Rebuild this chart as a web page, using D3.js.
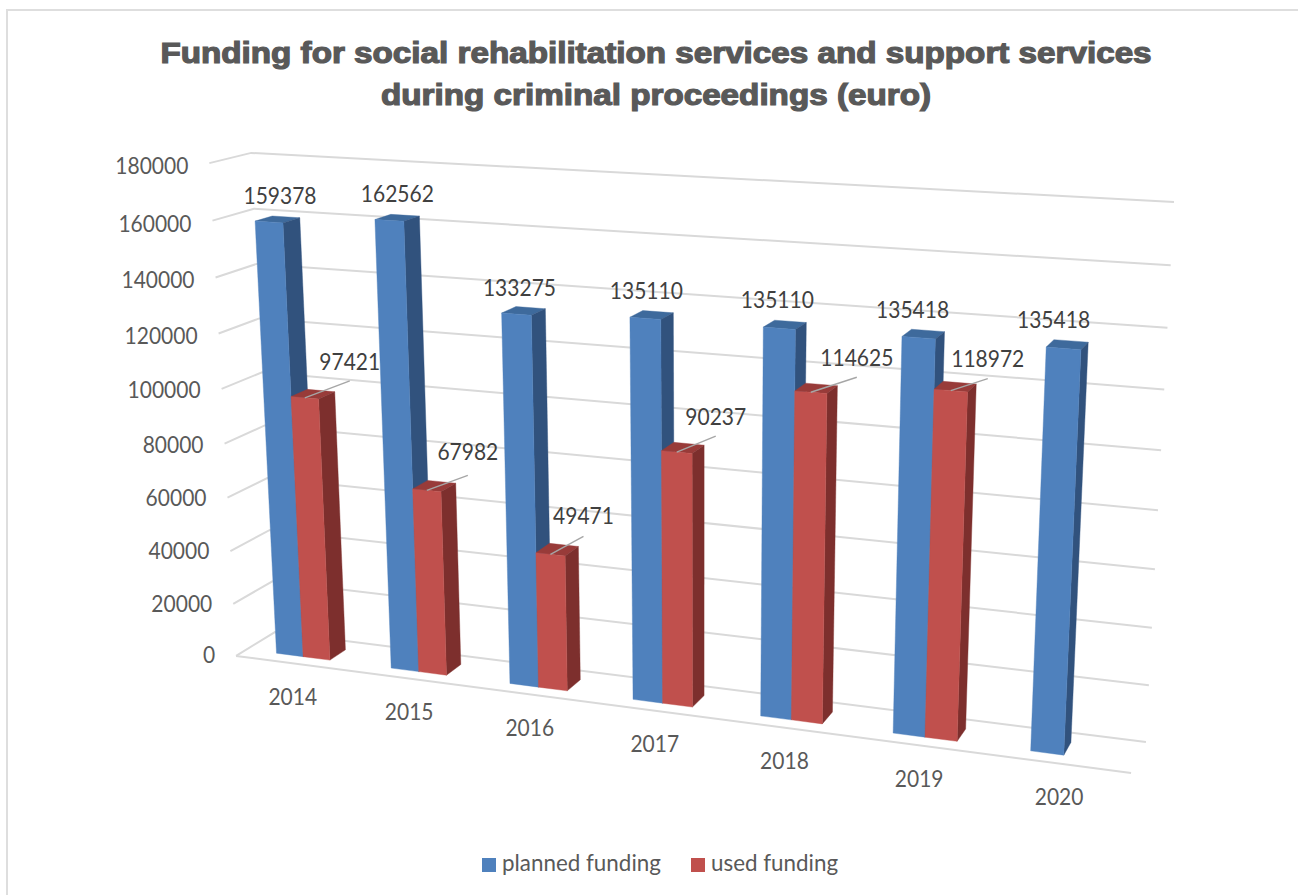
<!DOCTYPE html>
<html>
<head>
<meta charset="utf-8">
<title>Funding chart</title>
<script src="https://cdn.jsdelivr.net/npm/d3@7"></script>
<style>
  html, body { margin: 0; padding: 0; background: #fff; }
  svg { display: block; }
  text { font-family: Lato, "Open Sans", sans-serif; }
</style>
</head>
<body>
<svg id="chart" width="1298" height="895"></svg>
<script>
// Chart data
const years = ["2014", "2015", "2016", "2017", "2018", "2019", "2020"];
const plannedFunding = [159378, 162562, 133275, 135110, 135110, 135418, 135418];
const usedFunding = [97421, 67982, 49471, 90237, 114625, 118972, null];
const valueTicks = [0, 20000, 40000, 60000, 80000, 100000, 120000, 140000, 160000, 180000];
const titleLines = [
  "Funding for social rehabilitation services and support services",
  "during criminal proceedings (euro)"
];

// Label placement relative to the top of each bar
const plannedLabelShift = [[11, -24], [8, -24], [3, -24], [1, -25], [-2, -26], [-6, -25], [-10, -26]];
const usedLeaderShift = [[45, -17, 17], [41, -15, 21], [33, -18, 18], [39, -16, 17], [46, -15, 17], [37, -12, 17]];

const palette = {
  planned: { front: "#4f81bd", side: "#31527d", top: "#3e6a9c" },
  used: { front: "#c0504d", side: "#7d2f2d", top: "#983b39" },
  grid: "#d9d9d9",
  axisText: "#595959",
  labelText: "#404040"
};

// Camera for the 3D box: the box corners (u along years, v depth, w height) and their screen places
const boxAnchors = [
  [0, 0, 0, 236, 656], [0, 0, 1, 209.5, 163],
  [0, 1, 0, 275, 632], [0, 1, 1, 251, 153],
  [1, 1, 0, 1146, 742], [1, 1, 1, 1174, 202],
  [1, 0, 0, 1131, 773]
];

function solveCamera(anchors) {
  const rows = [], rhs = [];
  anchors.forEach(([u, v, w, x, y]) => {
    rows.push([u, v, w, 1, 0, 0, 0, 0, -x * u, -x * v, -x * w]); rhs.push(x);
    rows.push([0, 0, 0, 0, u, v, w, 1, -y * u, -y * v, -y * w]); rhs.push(y);
  });
  const n = 11;
  const A = d3.range(n).map(i => {
    const row = d3.range(n).map(j => d3.sum(rows, r => r[i] * r[j]));
    row.push(d3.sum(rows, (r, k) => r[i] * rhs[k]));
    return row;
  });
  for (let c = 0; c < n; c++) {
    let best = c;
    for (let r = c + 1; r < n; r++) if (Math.abs(A[r][c]) > Math.abs(A[best][c])) best = r;
    [A[c], A[best]] = [A[best], A[c]];
    for (let r = 0; r < n; r++) {
      if (r === c) continue;
      const f = A[r][c] / A[c][c];
      for (let k = c; k <= n; k++) A[r][k] -= f * A[c][k];
    }
  }
  return A.map((row, i) => row[n] / row[i]);
}

const cam = solveCamera(boxAnchors);
function project(u, v, w) {
  const d = cam[8] * u + cam[9] * v + cam[10] * w + 1;
  return [
    (cam[0] * u + cam[1] * v + cam[2] * w + cam[3]) / d,
    (cam[4] * u + cam[5] * v + cam[6] * w + cam[7]) / d
  ];
}

// Scales feeding the camera
const uScale = d3.scaleBand().domain(years).range([0, 1]).paddingInner(0.53).paddingOuter(0.265);
const seriesScale = d3.scaleBand().domain(["planned", "used"]).range([0, uScale.bandwidth()]);
const wScale = d3.scaleLinear().domain([0, 180000]).range([0, 1]);
const depthFront = 0.27, depthBack = 0.69;

// Body text is set a little tall and narrow; this draws it at a point with a horizontal squeeze
const bodySize = "23px";
const digitSqueeze = 0.913, wordSqueeze = 0.974;
const placeAt = (x, y, sx) => `translate(${x},${y}) scale(${sx},1)`;

const svg = d3.select("#chart");

// Outer chart frame
svg.append("path")
  .attr("d", "M7,895V10H1298")
  .attr("fill", "none").attr("stroke", "#dedede").attr("stroke-width", 2);

// Title
svg.append("g").selectAll("text").data(titleLines).join("text")
  .attr("transform", (d, i) => placeAt(656, 63 + i * 42, 1.146))
  .attr("text-anchor", "middle")
  .attr("fill", palette.axisText)
  .attr("stroke", palette.axisText)
  .attr("stroke-width", 1.2)
  .style("font-family", "'Liberation Sans', Arial, sans-serif")
  .style("font-weight", "bold")
  .style("font-size", "29px")
  .text(d => d);

// Gridlines wrap from the left wall onto the back wall
const line = d3.line();
svg.append("g").selectAll("path").data(valueTicks).join("path")
  .attr("d", t => line([project(0, 0, wScale(t)), project(0, 1, wScale(t)), project(1, 1, wScale(t))]))
  .attr("fill", "none").attr("stroke", palette.grid).attr("stroke-width", 2);

// Front edge of the floor
svg.append("path")
  .attr("d", line([project(0, 0, 0), project(1, 0, 0)]))
  .attr("fill", "none").attr("stroke", palette.grid).attr("stroke-width", 2);

// Value axis labels
svg.append("g").selectAll("text").data(valueTicks).join("text")
  .attr("transform", t => {
    const [x, y] = project(0, 0, wScale(t));
    return placeAt(x - 21, y + 1.5 + 4 * wScale(t), digitSqueeze);
  })
  .attr("text-anchor", "end")
  .attr("dominant-baseline", "middle")
  .attr("fill", palette.axisText)
  .style("font-size", bodySize)
  .text(t => t);

// One box per value: top and side first, front face last
function barFaces(year, series, value) {
  const u0 = uScale(year) + seriesScale(series);
  const u1 = u0 + seriesScale.bandwidth();
  const w = wScale(value);
  const p = (u, v, h) => project(u, v, h);
  return {
    top: [p(u0, depthFront, w), p(u1, depthFront, w), p(u1, depthBack, w), p(u0, depthBack, w)],
    side: [p(u1, depthFront, 0), p(u1, depthBack, 0), p(u1, depthBack, w), p(u1, depthFront, w)],
    front: [p(u0, depthFront, 0), p(u1, depthFront, 0), p(u1, depthFront, w), p(u0, depthFront, w)],
    anchor: p((u0 + u1) / 2, depthFront, w)
  };
}

const closed = pts => line(pts) + "Z";
const barLayer = svg.append("g");
const labelLayer = svg.append("g");

years.forEach((year, i) => {
  [["planned", plannedFunding[i]], ["used", usedFunding[i]]].forEach(([series, value]) => {
    if (value === null) return;
    const faces = barFaces(year, series, value);
    ["top", "side", "front"].forEach(face => {
      barLayer.append("path")
        .attr("d", closed(faces[face]))
        .attr("fill", palette[series][face])
        .attr("stroke", palette[series][face])
        .attr("stroke-width", 0.4);
    });

    if (series === "planned") {
      const [dx, dy] = plannedLabelShift[i];
      labelLayer.append("text")
        .attr("transform", placeAt(faces.anchor[0] + dx, faces.anchor[1] + dy, digitSqueeze))
        .attr("text-anchor", "middle")
        .attr("dominant-baseline", "middle")
        .attr("fill", palette.labelText)
        .style("font-size", bodySize)
        .text(value);
    } else {
      const [dx, dy, gap] = usedLeaderShift[i];
      const end = [faces.anchor[0] + dx, faces.anchor[1] + dy];
      labelLayer.append("path")
        .attr("d", line([faces.anchor, end]))
        .attr("stroke", "#a6a6a6").attr("stroke-width", 1.4).attr("fill", "none");
      labelLayer.append("text")
        .attr("transform", placeAt(end[0], end[1] - gap, digitSqueeze))
        .attr("text-anchor", "middle")
        .attr("dominant-baseline", "middle")
        .attr("fill", palette.labelText)
        .style("font-size", bodySize)
        .text(value);
    }
  });
});

// Year labels under the floor's front edge
svg.append("g").selectAll("text").data(years).join("text")
  .attr("transform", y => {
    const [px, py] = project(uScale(y) + uScale.bandwidth() / 2, 0, 0);
    return placeAt(px, py + 36, digitSqueeze);
  })
  .attr("text-anchor", "middle")
  .attr("dominant-baseline", "middle")
  .attr("fill", palette.axisText)
  .style("font-size", bodySize)
  .text(y => y);

// Legend
const legendItems = [
  { name: "planned funding", color: palette.planned.front, x: 482 },
  { name: "used funding", color: palette.used.front, x: 691 }
];
const legend = svg.append("g").selectAll("g").data(legendItems).join("g")
  .attr("transform", d => `translate(${d.x},858)`);
legend.append("rect").attr("width", 14).attr("height", 14).attr("fill", d => d.color);
legend.append("text")
  .attr("transform", placeAt(20, 7.5, wordSqueeze))
  .attr("dominant-baseline", "middle")
  .attr("fill", palette.axisText)
  .style("font-size", bodySize)
  .text(d => d.name);
</script>
</body>
</html>
